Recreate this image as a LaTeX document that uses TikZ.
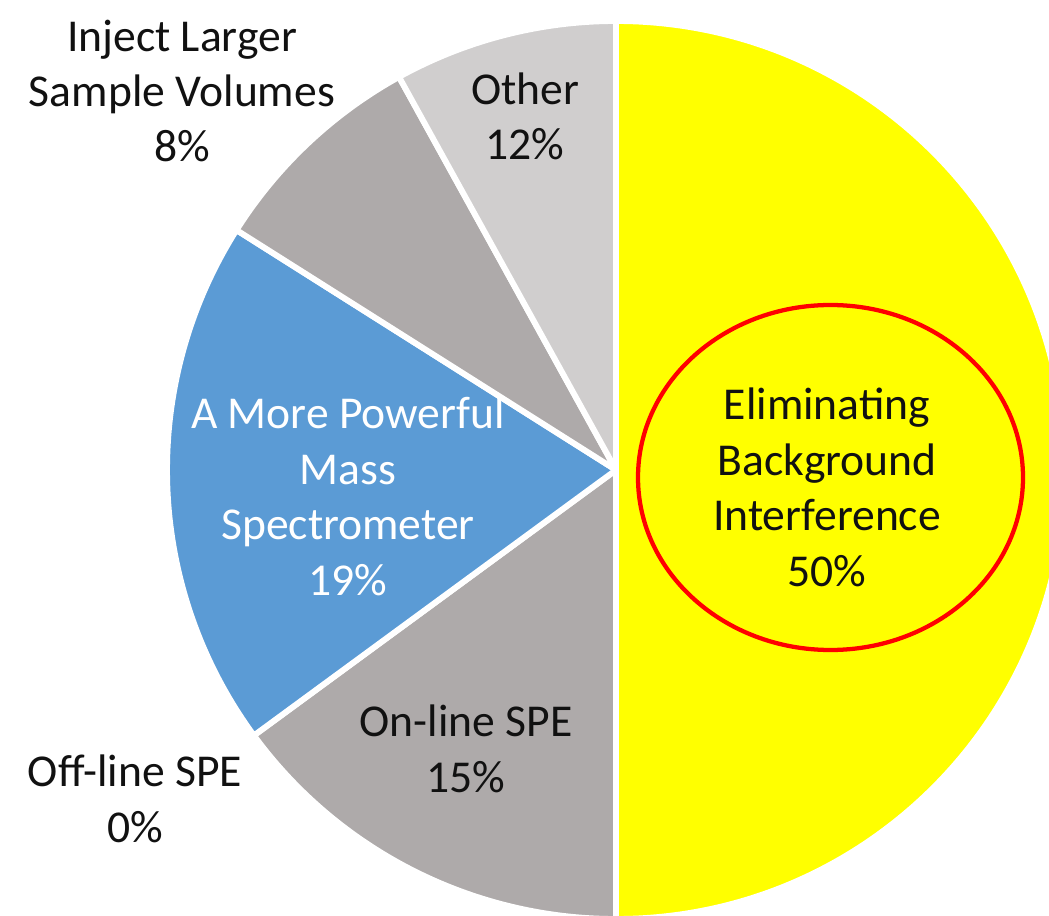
\documentclass[tikz,border=0pt]{standalone}
\usepackage{fontspec}
\setmainfont{Carlito}
\definecolor{sliceyellow}{HTML}{FFFF00}
\definecolor{slicegray}{HTML}{AEAAAA}
\definecolor{slicelight}{HTML}{D0CECE}
\definecolor{sliceblue}{HTML}{5B9BD5}
\definecolor{labeltext}{HTML}{111111}
\definecolor{ringred}{HTML}{FF0000}
\begin{document}
\begin{tikzpicture}[x=0.75pt,y=0.75pt,
  slice/.style={draw=white,line width=4.4pt,line join=round},
  lbl/.style={font=\fontsize{34.2}{41.6}\selectfont,align=center,anchor=base,
    inner sep=0pt,text=labeltext},
  lblwhite/.style={lbl,text=white}]
\useasboundingbox (0,0) rectangle (1049,915);

% pie centre
\coordinate (c) at (616,445);
\def\R{449}

% Eliminating Background Interference
\filldraw[slice,fill=sliceyellow] (c) -- ++(90:\R) arc[start angle=90,end angle=-90,radius=\R] -- cycle;
% On-line SPE
\filldraw[slice,fill=slicegray] (c) -- ++(270:\R) arc[start angle=270,end angle=216.25,radius=\R] -- cycle;
% A More Powerful Mass Spectrometer
\filldraw[slice,fill=sliceblue] (c) -- ++(216.25:\R) arc[start angle=216.25,end angle=147.7,radius=\R] -- cycle;
% Inject Larger Sample Volumes
\filldraw[slice,fill=slicegray] (c) -- ++(147.7:\R) arc[start angle=147.7,end angle=118.9,radius=\R] -- cycle;
% Other
\filldraw[slice,fill=slicelight] (c) -- ++(118.9:\R) arc[start angle=118.9,end angle=90,radius=\R] -- cycle;

% highlight ring
\draw[ringred,line width=3.2pt] (830.5,437.5) ellipse[x radius=192.5,y radius=172.5];

% data labels (anchored at the baseline of their last line)
\node[lbl] (inject) at (182,753) {Inject Larger\\Sample Volumes\\8\%};
\node[lbl] (other) at (525,755) {Other\\12\%};
\node[lblwhite] (mass) at (348,320) {A More Powerful\\Mass\\Spectrometer\\19\%};
\node[lbl] (online) at (466,123) {On-line SPE\\15\%};
\node[lbl] (offline) at (135,73) {Off-line SPE\\0\%};
\node[lbl] (elim) at (827,329) {Eliminating\\Background\\Interference\\50\%};
\end{tikzpicture}
\end{document}
